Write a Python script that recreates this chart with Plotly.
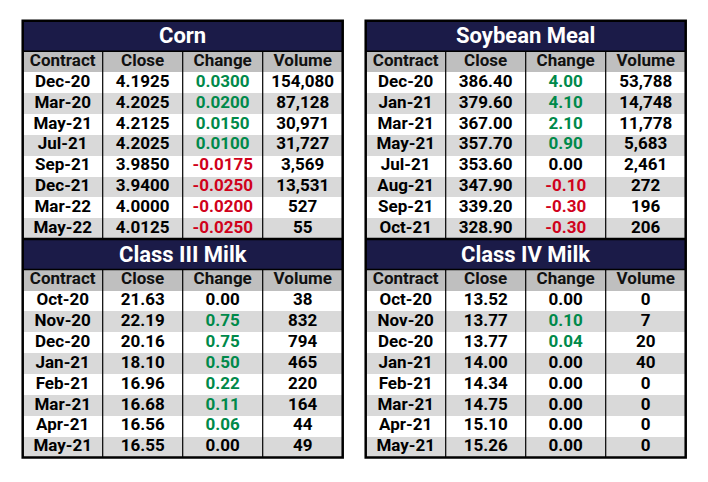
import plotly.graph_objects as go

W, H = 708, 482

columns = ["Contract", "Close", "Change", "Volume"]

corn_contract = ["Dec-20", "Mar-20", "May-21", "Jul-21", "Sep-21", "Dec-21", "Mar-22", "May-22"]
corn_close = ["4.1925", "4.2025", "4.2125", "4.2025", "3.9850", "3.9400", "4.0000", "4.0125"]
corn_change = ["0.0300", "0.0200", "0.0150", "0.0100", "-0.0175", "-0.0250", "-0.0200", "-0.0250"]
corn_volume = ["154,080", "87,128", "30,971", "31,727", "3,569", "13,531", "527", "55"]

meal_contract = ["Dec-20", "Jan-21", "Mar-21", "May-21", "Jul-21", "Aug-21", "Sep-21", "Oct-21"]
meal_close = ["386.40", "379.60", "367.00", "357.70", "353.60", "347.90", "339.20", "328.90"]
meal_change = ["4.00", "4.10", "2.10", "0.90", "0.00", "-0.10", "-0.30", "-0.30"]
meal_volume = ["53,788", "14,748", "11,778", "5,683", "2,461", "272", "196", "206"]

c3_contract = ["Oct-20", "Nov-20", "Dec-20", "Jan-21", "Feb-21", "Mar-21", "Apr-21", "May-21"]
c3_close = ["21.63", "22.19", "20.16", "18.10", "16.96", "16.68", "16.56", "16.55"]
c3_change = ["0.00", "0.75", "0.75", "0.50", "0.22", "0.11", "0.06", "0.00"]
c3_volume = ["38", "832", "794", "465", "220", "164", "44", "49"]

c4_contract = ["Oct-20", "Nov-20", "Dec-20", "Jan-21", "Feb-21", "Mar-21", "Apr-21", "May-21"]
c4_close = ["13.52", "13.77", "13.77", "14.00", "14.34", "14.75", "15.10", "15.26"]
c4_change = ["0.00", "0.10", "0.04", "0.00", "0.00", "0.00", "0.00", "0.00"]
c4_volume = ["0", "7", "20", "40", "0", "0", "0", "0"]

NAVY = "#1b1b48"
HEAD_GRAY = "#bfbfbf"
ROW_GRAY = "#d9d9d9"
GREEN = "#00894a"
RED = "#d0021b"
FONT = "Roboto, Lato, sans-serif"

OFF = 8  # page margin around the plot div
TITLE_H = 30.5
ROW_H = 20.88
TABLE_W = 320


def change_color(v):
    x = float(v)
    if x > 0:
        return GREEN
    if x < 0:
        return RED
    return "black"


def px_x(p):
    return (p - OFF) / W


def px_y(p):
    return 1 - (p - OFF) / H


fig = go.Figure()
shapes = []
annotations = []
axes = {}


def add_block(k, title, contract, close, change, volume, x0, top):
    x1 = x0 + TABLE_W
    n = len(contract)
    head_top = top + TITLE_H
    bottom = head_top + (n + 1) * ROW_H
    xa, ya = f"x{k}", f"y{k}"

    # row 0 is the column header, rows 1..n the contracts
    z = [[2] * 4] + [[(i % 2)] * 4 for i in range(n)]
    fig.add_trace(go.Heatmap(
        z=z, x=list(range(4)), y=list(range(n + 1)),
        zmin=0, zmax=2, showscale=False, hoverinfo="skip",
        colorscale=[[0, "white"], [0.5, ROW_GRAY], [1, HEAD_GRAY]],
        xaxis=xa, yaxis=ya,
    ))

    xs, ys, texts, colors = [], [], [], []
    for c, name in enumerate(columns):
        xs.append(c)
        ys.append(0)
        texts.append(name)
        colors.append("#111111")
    for c, col in enumerate((contract, close, change, volume)):
        for r, v in enumerate(col):
            xs.append(c)
            ys.append(r + 1)
            texts.append(v)
            colors.append(change_color(v) if c == 2 else "black")
    fig.add_trace(go.Scatter(
        x=xs, y=ys, text=texts, mode="text", textposition="middle center",
        textfont=dict(family=FONT, size=17, color=colors, weight="bold"),
        hoverinfo="skip", showlegend=False, xaxis=xa, yaxis=ya,
    ))

    suffix = "" if k == 1 else str(k)
    axes[f"xaxis{suffix}"] = dict(domain=[px_x(x0), px_x(x1)], range=[-0.5, 3.5],
                                  visible=False, fixedrange=True, anchor=ya)
    axes[f"yaxis{suffix}"] = dict(domain=[px_y(bottom), px_y(head_top)], range=[n + 0.5, -0.5],
                                  visible=False, fixedrange=True, anchor=xa)

    # title bar
    shapes.append(dict(type="rect", xref="paper", yref="paper",
                       x0=px_x(x0), x1=px_x(x1), y0=px_y(head_top), y1=px_y(top),
                       fillcolor=NAVY, line=dict(width=0), layer="above"))
    annotations.append(dict(text=f"<b>{title}</b>", xref="paper", yref="paper",
                            x=px_x((x0 + x1) / 2), y=px_y(top + TITLE_H / 2),
                            xanchor="center", yanchor="middle", showarrow=False,
                            font=dict(family=FONT, size=22, color="white")))
    # column dividers
    for c in range(3):
        shapes.append(dict(type="line", xref=xa, yref=ya, x0=c + 0.5, x1=c + 0.5,
                           y0=-0.5, y1=n + 0.5,
                           line=dict(color="black", width=1.2), layer="above"))
    # title / header separator
    shapes.append(dict(type="line", xref="paper", yref="paper", x0=px_x(x0), x1=px_x(x1),
                       y0=px_y(head_top), y1=px_y(head_top),
                       line=dict(color="black", width=1.5), layer="above"))
    return bottom


left_x, right_x = 22.7, 365.7
top0 = 20.7

mid = add_block(1, "Corn", corn_contract, corn_close, corn_change, corn_volume, left_x, top0)
add_block(2, "Soybean Meal", meal_contract, meal_close, meal_change, meal_volume, right_x, top0)
end = add_block(3, "Class III Milk", c3_contract, c3_close, c3_change, c3_volume, left_x, mid)
add_block(4, "Class IV Milk", c4_contract, c4_close, c4_change, c4_volume, right_x, mid)

# outer borders and the line between the upper and lower tables
for x0 in (left_x, right_x):
    shapes.append(dict(type="rect", xref="paper", yref="paper",
                       x0=px_x(x0), x1=px_x(x0 + TABLE_W), y0=px_y(end), y1=px_y(top0),
                       line=dict(color="black", width=2.5), layer="above"))
    shapes.append(dict(type="line", xref="paper", yref="paper",
                       x0=px_x(x0), x1=px_x(x0 + TABLE_W), y0=px_y(mid), y1=px_y(mid),
                       line=dict(color="black", width=2.5), layer="above"))

fig.update_layout(
    width=W, height=H,
    margin=dict(l=0, r=0, t=0, b=0),
    paper_bgcolor="white",
    plot_bgcolor="white",
    showlegend=False,
    shapes=shapes,
    annotations=annotations,
    **axes,
)

fig.write_html("out.html")
